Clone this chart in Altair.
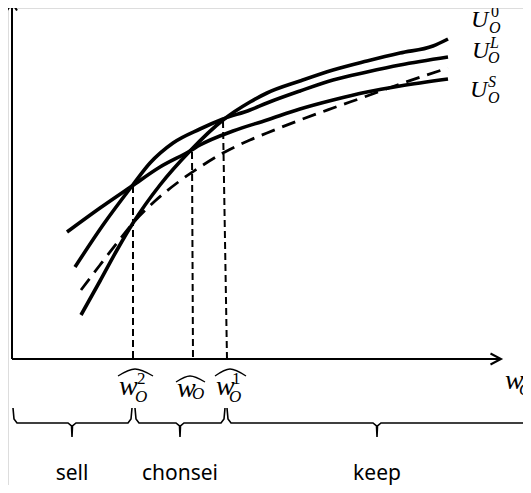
import altair as alt
import pandas as pd

# ---- curves (w = wealth, u = utility) ----
w_S = [5.5, 8.8, 12.0, 14.8, 17.8, 18.8, 22.1, 25.5, 28.8, 32.1, 35.5, 38.8, 43.6]
u_S = [12.7, 15.1, 17.3, 19.2, 20.8, 21.4, 22.8, 23.9, 25.0, 25.9, 26.7, 27.3, 28.0]
w_L = [6.3, 9.1, 12.0, 13.8, 16.1, 18.8, 21.1, 23.8, 25.5, 28.8, 32.1, 35.5, 38.8, 43.6]
u_L = [9.2, 13.4, 17.3, 19.6, 21.6, 23.0, 24.0, 24.9, 25.6, 26.8, 27.9, 28.7, 29.4, 30.2]
w_0 = [6.9, 8.8, 10.5, 12.1, 14.8, 17.8, 21.1, 23.8, 25.5, 28.8, 32.1, 35.5, 38.8, 42.1, 43.6]
u_0 = [4.4, 7.8, 10.9, 13.6, 17.4, 20.8, 23.9, 25.7, 26.6, 27.8, 28.9, 29.8, 30.6, 31.3, 32.0]
w_D = [6.9, 8.8, 10.5, 12.1, 14.3, 16.5, 18.8, 21.1, 23.8, 25.5, 28.8, 32.1, 35.5, 38.8, 43.6]
u_D = [6.9, 9.4, 11.6, 13.6, 15.8, 17.6, 19.2, 20.6, 21.9, 22.6, 23.9, 25.1, 26.3, 27.5, 29.1]

# ---- threshold wealth levels (dashed verticals) ----
thr_w_top = [12.1, 18.0, 21.1]
thr_w_bot = [12.1, 18.1, 21.5]
thr_u_top = [17.3, 20.7, 23.8]

# ---- axes extents ----
x_axis_end = 48.8
y_axis_end = 35.6

# ---- regions (braces) ----
reg_start = [0.1, 12.3, 21.5]
reg_mid = [6.0, 16.8, 36.5]
reg_end = [12.0, 21.3, 52.8]
reg_names = ["sell", "chonsei", "keep"]
brace_top, brace_line, brace_tip = -4.9, -6.4, -7.8
region_text_u = -12.1

# ---- math labels (italic letters) ----
curve_lab_text = ["U", "O", "U", "L", "O", "U", "S", "O"]
curve_lab_w = [45.9, 47.7, 46.0, 47.8, 47.6, 45.8, 47.6, 47.6]
curve_lab_u = [33.2, 32.6, 30.1, 31.1, 29.6, 26.2, 27.2, 25.6]
curve_lab_fs = [24, 16, 24, 16, 16, 24, 16, 16]

xlab_text = ["w", "O", "w", "O", "w", "O", "w", "O"]
xlab_w = [10.7, 12.3, 16.5, 18.0, 20.4, 21.7, 49.3, 50.7]
xlab_u = [-3.6, -4.3, -3.8, -4.0, -3.6, -4.3, -3.0, -3.6]
xlab_fs = [28, 17, 28, 17, 28, 17, 28, 17]

# ---- upright digit superscripts ----
digit_text = ["0", "2", "1"]
digit_w = [47.9, 12.5, 22.0]
digit_u = [34.2, -2.5, -2.5]
digit_fs = [16, 17, 17]

hat_w = [[10.6, 12.3, 14.1], [16.4, 17.8, 19.3], [20.3, 21.8, 23.4]]
hat_u = [[-1.7, -1.0, -1.7], [-2.3, -1.7, -2.3], [-1.7, -1.0, -1.7]]

# ---------------------------------------------------------------
xs = alt.Scale(domain=[-0.4, 51.1], nice=False, zero=False)
ys = alt.Scale(domain=[-12.6, 35.1], nice=False, zero=False)


def X(f="w"):
    return alt.X(f, type="quantitative", scale=xs, axis=None)


def Y(f="u"):
    return alt.Y(f, type="quantitative", scale=ys, axis=None)


def curve_df(ws, us):
    return pd.DataFrame({"w": ws, "u": us})


solid = pd.concat([
    curve_df(w_S, u_S).assign(c="S"),
    curve_df(w_L, u_L).assign(c="L"),
    curve_df(w_0, u_0).assign(c="0"),
])

solid_layer = alt.Chart(solid).mark_line(
    color="black", strokeWidth=3.6, interpolate="monotone"
).encode(x=X(), y=Y(), detail="c:N")

dashed_layer = alt.Chart(curve_df(w_D, u_D)).mark_line(
    color="black", strokeWidth=2.8, strokeDash=[14, 8], interpolate="monotone"
).encode(x=X(), y=Y())

thr = pd.DataFrame({"w": thr_w_top, "w2": thr_w_bot, "u": thr_u_top, "u2": [0, 0, 0]})
thr_layer = alt.Chart(thr).mark_rule(
    color="black", strokeWidth=2, strokeDash=[7, 4]
).encode(x=X(), x2="w2", y=Y(), y2="u2")

axes = pd.DataFrame({"w": [0, 0], "w2": [x_axis_end, 0], "u": [0, 0], "u2": [0, y_axis_end]})
axes_layer = alt.Chart(axes).mark_rule(color="black", strokeWidth=2).encode(
    x=X(), x2="w2", y=Y(), y2="u2"
)

arrow_rows = []
for i, (w, u) in enumerate([(-0.5, y_axis_end - 0.75), (0, y_axis_end + 0.05), (0.5, y_axis_end - 0.75)]):
    arrow_rows.append({"g": "y", "i": i, "w": w, "u": u})
for i, (w, u) in enumerate([(x_axis_end - 0.95, 0.55), (x_axis_end + 0.1, 0), (x_axis_end - 0.95, -0.55)]):
    arrow_rows.append({"g": "x", "i": i, "w": w, "u": u})
arrow_layer = alt.Chart(pd.DataFrame(arrow_rows)).mark_line(
    color="black", strokeWidth=2
).encode(x=X(), y=Y(), detail="g:N", order="i:Q")

# braces
brace_rows = []
for k in range(len(reg_names)):
    s, m, e = reg_start[k], reg_mid[k], reg_end[k]
    pts = [
        (s, brace_top), (s + 0.1, brace_line + 0.4), (s + 0.4, brace_line),
        (m - 0.4, brace_line), (m - 0.05, brace_line - 0.3), (m, brace_tip),
        (m + 0.05, brace_line - 0.3), (m + 0.4, brace_line),
        (e - 0.4, brace_line), (e - 0.1, brace_line + 0.4), (e, brace_top),
    ]
    for i, (w, u) in enumerate(pts):
        brace_rows.append({"g": k, "i": i, "w": w, "u": u})
brace_layer = alt.Chart(pd.DataFrame(brace_rows)).mark_line(
    color="black", strokeWidth=1.6
).encode(x=X(), y=Y(), detail="g:N", order="i:Q")

hat_rows = []
for k in range(len(hat_w)):
    for i in range(3):
        hat_rows.append({"g": k, "i": i, "w": hat_w[k][i], "u": hat_u[k][i]})
hat_layer = alt.Chart(pd.DataFrame(hat_rows)).mark_line(
    color="black", strokeWidth=1.3, interpolate="monotone"
).encode(x=X(), y=Y(), detail="g:N", order="i:Q")

math = pd.concat([
    pd.DataFrame({"t": curve_lab_text, "w": curve_lab_w, "u": curve_lab_u, "fs": curve_lab_fs}),
    pd.DataFrame({"t": xlab_text, "w": xlab_w, "u": xlab_u, "fs": xlab_fs}),
])
math_layer = alt.Chart(math).mark_text(
    font="Liberation Serif", fontStyle="italic", align="left", baseline="alphabetic", color="black"
).encode(x=X(), y=Y(), text="t:N", size=alt.Size("fs:Q", scale=None, legend=None))

digits = pd.DataFrame({"t": digit_text, "w": digit_w, "u": digit_u, "fs": digit_fs})
digit_layer = alt.Chart(digits).mark_text(
    font="Liberation Serif", align="left", baseline="alphabetic", color="black"
).encode(x=X(), y=Y(), text="t:N", size=alt.Size("fs:Q", scale=None, legend=None))

regions = pd.DataFrame({"t": reg_names, "w": reg_mid, "u": [region_text_u] * 3})
region_layer = alt.Chart(regions).mark_text(
    font="Noto Sans", fontSize=21, align="center", baseline="alphabetic", color="black"
).encode(x=X(), y=Y(), text="t:N")

chart = alt.layer(
    axes_layer, arrow_layer, thr_layer, dashed_layer, solid_layer,
    hat_layer, brace_layer, math_layer, digit_layer, region_layer,
).properties(
    width=515, height=477, padding=0, autosize=alt.AutoSizeParams(type="none")
).configure_view(stroke=None).configure(background="white")

chart.save("out.html", embed_options={"renderer": "svg", "actions": False})
